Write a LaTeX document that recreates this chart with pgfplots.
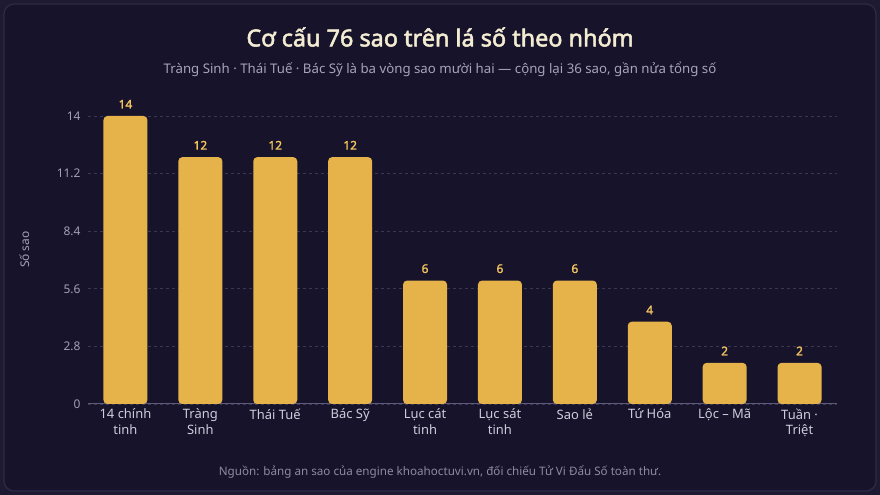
\documentclass[border=0pt]{standalone}
\usepackage{pgfplots}
\pgfplotsset{compat=1.18}
\usepackage{fontspec}
\setmainfont{Noto Sans}
\newfontfamily\heavysans{Noto Sans}[FakeBold=2.2]
\newfontfamily\semisans{Noto Sans}[FakeBold=1.6]
\definecolor{pagebg}{HTML}{1D1A31}
\definecolor{panelbg}{HTML}{16132A}
\definecolor{panelrule}{HTML}{2E2B45}
\definecolor{bargold}{HTML}{E6B34B}
\definecolor{valgold}{HTML}{F2C35E}
\definecolor{titlecream}{HTML}{F4ECD2}
\definecolor{subgray}{HTML}{A6A3BA}
\definecolor{tickgray}{HTML}{A3A0B6}
\definecolor{catgray}{HTML}{CFCCDD}
\definecolor{gridc}{HTML}{3A3754}
\definecolor{axisc}{HTML}{5E5A7A}
\definecolor{footgray}{HTML}{8E8AA3}
\begin{document}
\begin{tikzpicture}[x=1bp,y=1bp]
  % page and card
  \fill[pagebg] (0,0) rectangle (880,495);
  \filldraw[fill=panelbg, draw=panelrule, line width=1.2bp, rounded corners=10bp] (4,4) rectangle (876,491);
  % headings
  \node[text=titlecream, font=\fontsize{23.5}{27}\heavysans] at (440,458) {Cơ cấu 76 sao trên lá số theo nhóm};
  \node[text=subgray, font=\fontsize{13.3}{16}\selectfont] at (440,426) {Tràng Sinh · Thái Tuế · Bác Sỹ là ba vòng sao mười hai — cộng lại 36 sao, gần nửa tổng số};
  \node[text=footgray, font=\fontsize{11.7}{14}\selectfont] at (440,23) {Nguồn: bảng an sao của engine khoahoctuvi.vn, đối chiếu Tử Vi Đẩu Số toàn thư.};
  \begin{axis}[
    at={(88bp,91bp)}, anchor=south west,
    scale only axis,
    width=749bp, height=308.57bp,
    xmin=-0.5, xmax=9.5,
    ymin=0, ymax=15,
    axis lines*=left,
    y axis line style={draw=none},
    x axis line style={draw=axisc, line width=1bp},
    major tick length=0pt,
    ytick={0,2.8,5.6,8.4,11.2,14},
    /pgf/number format/assume math mode=true,
    yticklabel style={text=tickgray, font=\fontsize{12}{14}\selectfont, xshift=-4bp},
    ymajorgrids,
    grid style={draw=gridc, dashed, line width=0.8bp},
    xtick=data,
    xticklabels={{14 chính\\tinh},{Tràng\\Sinh},{Thái Tuế},{Bác Sỹ},{Lục cát\\tinh},{Lục sát\\tinh},{Sao lẻ},{Tứ Hóa},{Lộc – Mã},{Tuần ·\\Triệt}},
    xticklabel style={text=catgray, font=\fontsize{13}{16}\selectfont, align=center, yshift=-1bp},
    ylabel={Số sao},
    ylabel style={at={(axis description cs:-0.085,0.5)}, anchor=center, text=tickgray, font=\fontsize{12}{14}\selectfont},
  ]
    \addplot[ybar, bar width=44bp, fill=bargold, draw=none, rounded corners=4bp,
      nodes near coords,
      every node near coord/.append style={text=valgold, font=\fontsize{12}{14}\semisans, yshift=4bp, rounded corners=0pt}]
      coordinates {(0,14) (1,12) (2,12) (3,12) (4,6) (5,6) (6,6) (7,4) (8,2) (9,2)};
  \end{axis}
\end{tikzpicture}
\end{document}
